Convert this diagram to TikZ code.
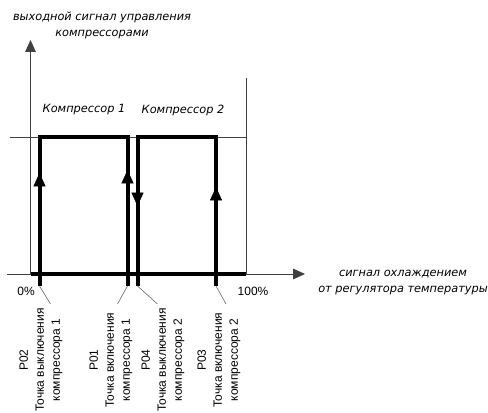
\documentclass[tikz,border=0pt]{standalone}
\usepackage{fontspec}
\setmainfont{Liberation Sans}
\newfontfamily\capfont{DejaVu Sans}
\usetikzlibrary{positioning,arrows.meta}

\begin{document}
\begin{tikzpicture}[x=0.75pt, y=-0.75pt, font=\fontsize{9}{12}\selectfont,
		thinline/.style={draw=black!75, line width=0.6pt},
		boldline/.style={line width=3pt, line join=miter},
		lead/.style={draw=black!55, line width=0.5pt},
		itlabel/.style={font=\capfont\itshape\fontsize{8.5}{12}\selectfont, align=center},
		ptlabel/.style={rotate=90, align=center},
		tip/.style={-{Triangle[width=9pt,length=10pt]}}]
		\useasboundingbox (0,0) rectangle (488,413);
		% axes and guide lines
		\coordinate (origin) at (30.5,274);
		\coordinate (ytop) at (30.5,40);
		\coordinate (xleft) at (7,274);
		\coordinate (xright) at (305,274);
		\coordinate (full) at (246,274);
		\draw[thinline, -{Triangle[width=8pt,length=9pt]}] (origin) -- (ytop);
		\draw[thinline, -{Triangle[width=8pt,length=9pt]}] (xleft) -- (xright);
		\draw[thinline] (10,137) -- (246,137);
		\draw[thinline] (246,78) -- (full);
		\draw[boldline] (origin) -- (full);
		% compressor steps
		\coordinate (p02) at (39.5,274);
		\coordinate (p01) at (127.5,274);
		\coordinate (p04) at (137.5,274);
		\coordinate (p03) at (216,274);
		\draw[boldline] (p02) -- (39.5,137) -- (127.5,137) -- (p01);
		\draw[boldline] (p04) -- (137.5,137) -- (216,137) -- (p03);
		\draw[tip] (39.5,190) -- (39.5,173);
		\draw[tip] (127.5,186) -- (127.5,170);
		\draw[tip] (137.5,190) -- (137.5,206);
		\draw[tip] (216,203) -- (216,187);
		% ticks and leaders
		\foreach \p/\dx in {p02/11, p01/-10, p04/20, p03/10} {
			\draw[boldline] (\p) -- ++(0,12) coordinate (\p end);
			\draw[lead] (\p end) -- ++(\dx,18);
		}
		% texts
		\node[itlabel] (ylabel) at (102,25) {выходной сигнал управления\\компрессорами};
		\node[itlabel] (comp1) at (84,110) {Компрессор 1};
		\node[itlabel] (comp2) at (183,110) {Компрессор 2};
		\node[itlabel] (xlabel) at (403,283) {сигнал охлаждением\\от регулятора температуры};
		\node (zero) at (26,291) {0\%};
		\node (hundred) at (253,291) {100\%};
		\node[ptlabel] (lp02) at (41,360) {P02\\Точка выключения\\компрессора 1};
		\node[ptlabel] (lp01) at (111,360) {P01\\Точка включения\\компрессора 1};
		\node[ptlabel] (lp04) at (163,360) {P04\\Точка выключения\\компрессора 2};
		\node[ptlabel] (lp03) at (219,360) {P03\\Точка включения\\компрессора 2};
	\end{tikzpicture}
\end{document}
